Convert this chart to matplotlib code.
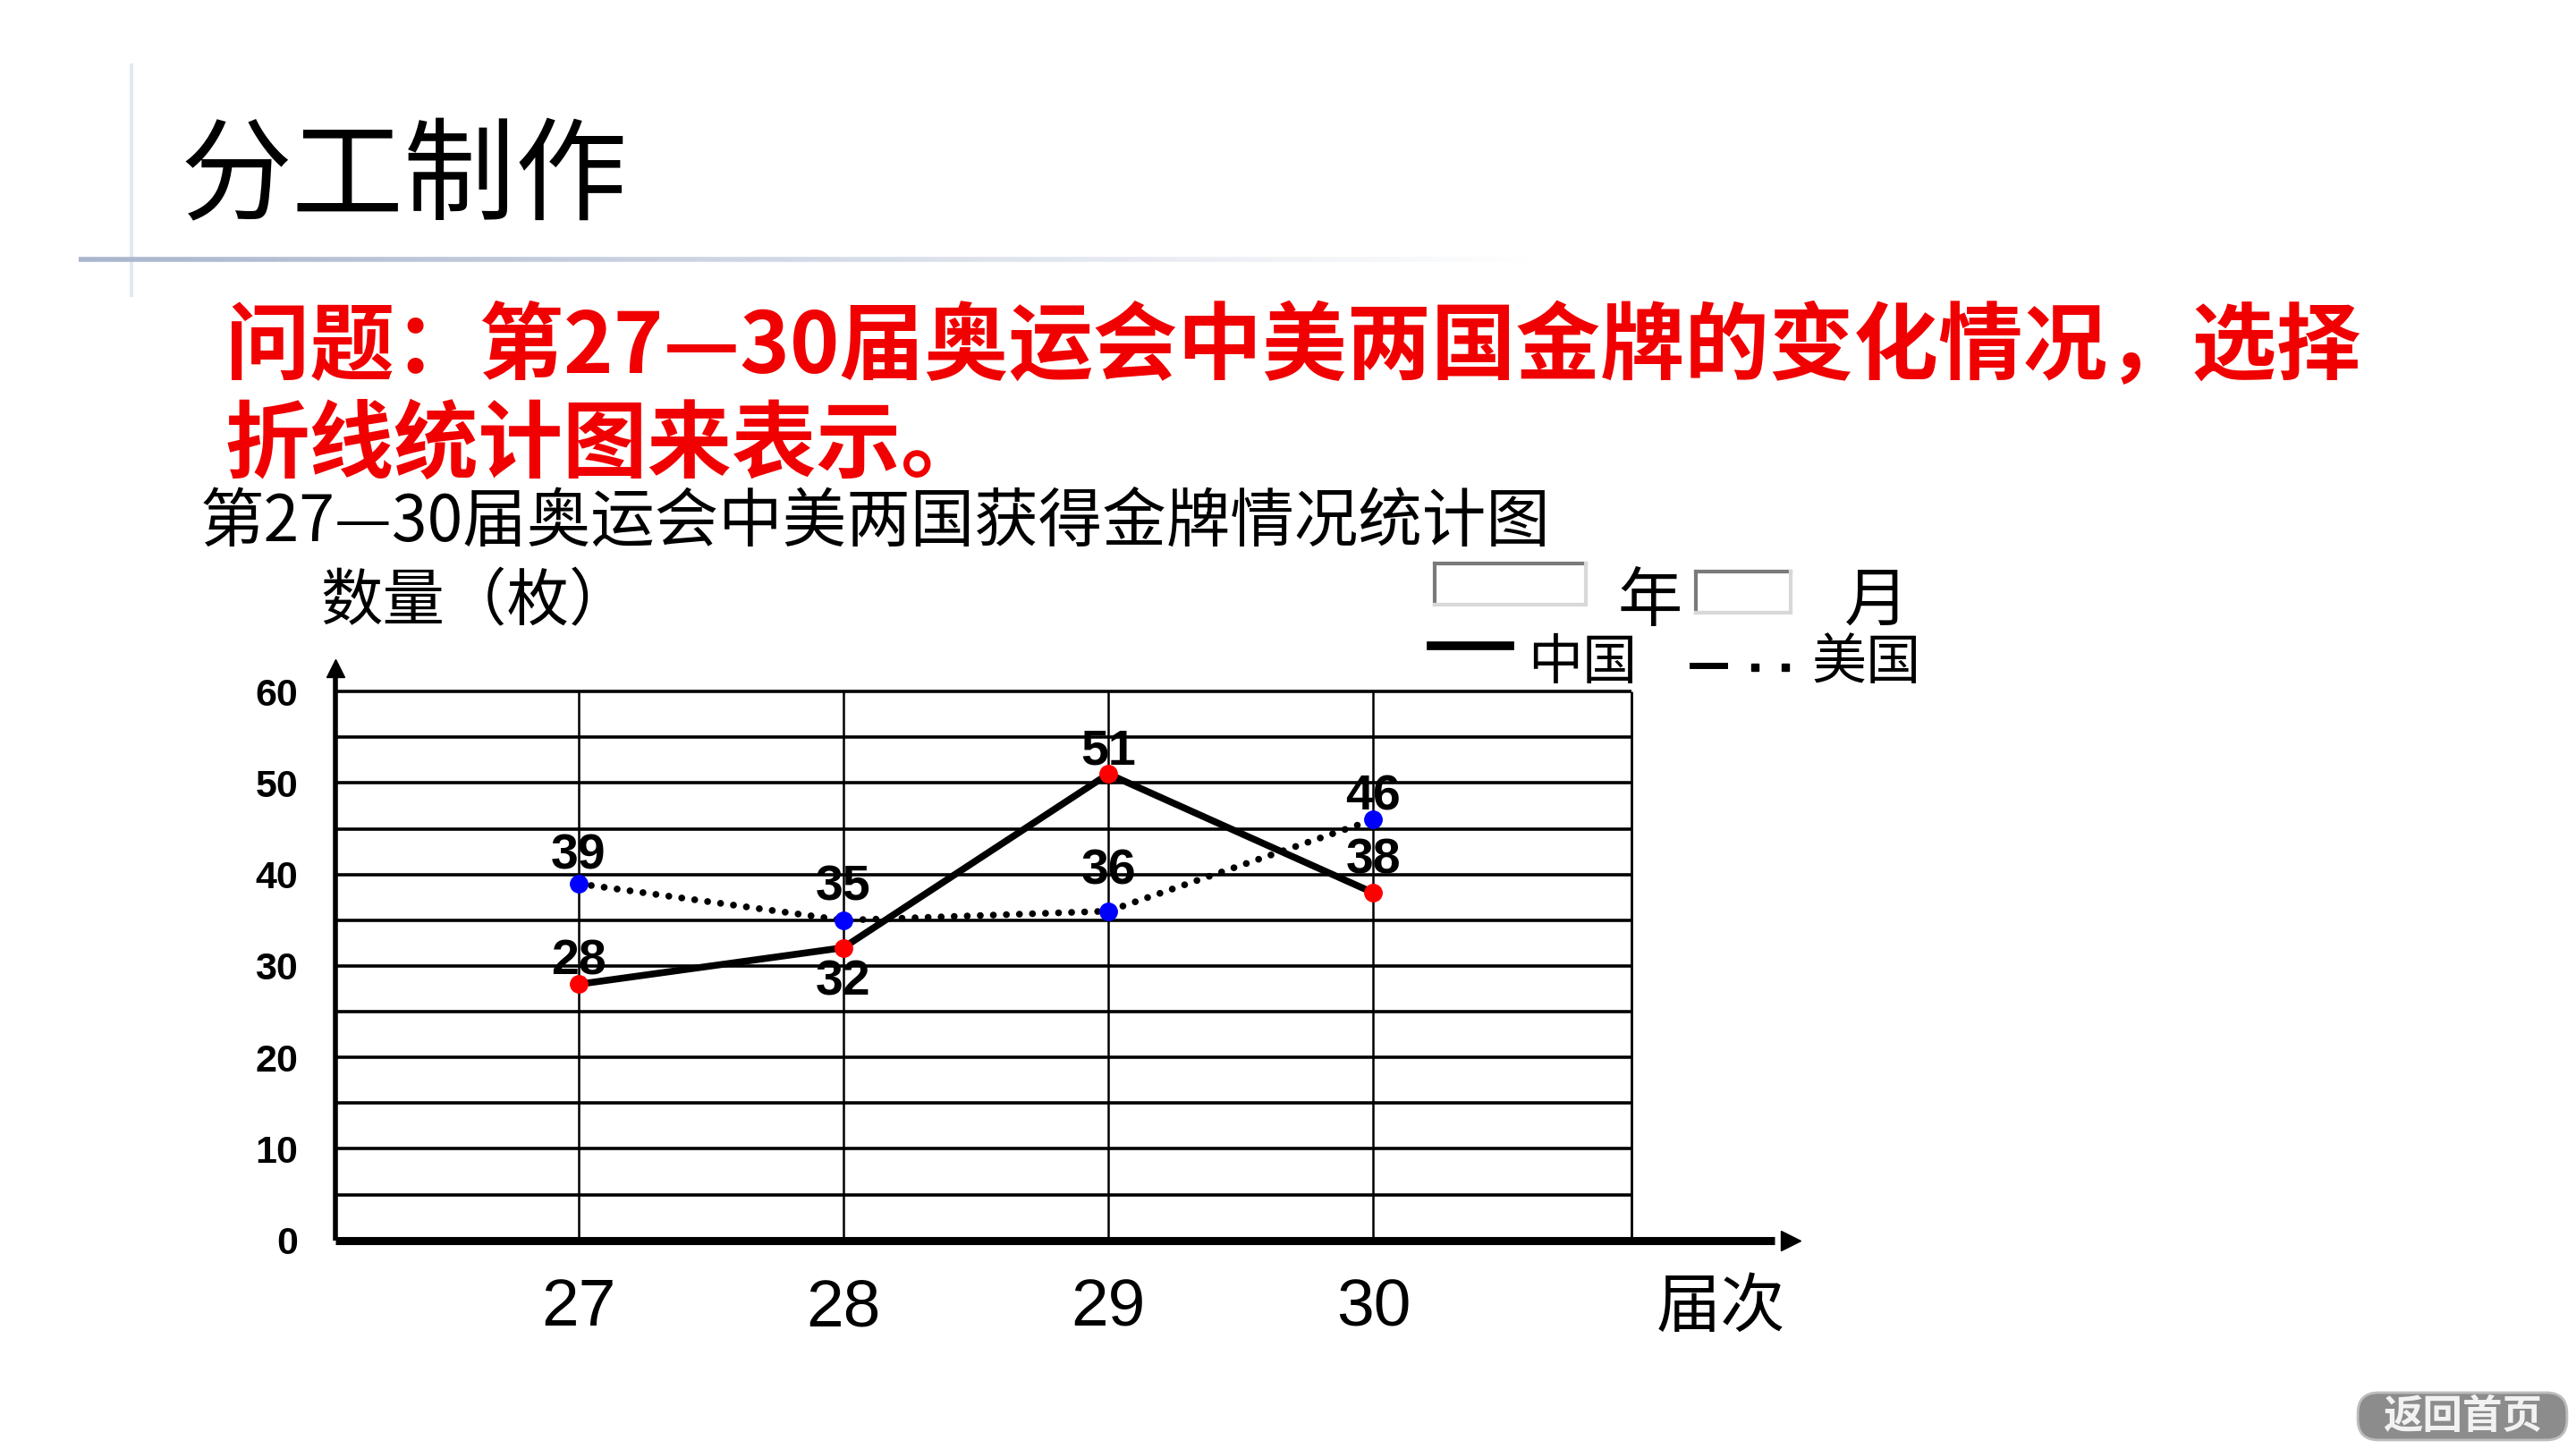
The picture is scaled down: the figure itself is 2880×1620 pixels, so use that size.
import numpy as np
import matplotlib
matplotlib.use("Agg")
import matplotlib.pyplot as plt
from matplotlib.lines import Line2D
from matplotlib.patches import FancyBboxPatch
from matplotlib.collections import LineCollection

plt.rcParams['font.family'] = ['Noto Sans CJK SC', 'DejaVu Sans']

# ---------------- data ----------------
editions = ['27', '28', '29', '30']
china = [28, 32, 51, 38]
usa = [39, 35, 36, 46]
y_tick_values = [0, 10, 20, 30, 40, 50, 60]
grid_values = [5, 10, 15, 20, 25, 30, 35, 40, 45, 50, 55, 60]

slide_title = '分工制作'
question_line1 = '问题：第27—30届奥运会中美两国金牌的变化情况，选择'
question_line2 = '折线统计图来表示。'
chart_title = '第27—30届奥运会中美两国获得金牌情况统计图'
y_label = '数量（枚）'
x_label = '届次'
legend_china = '中国'
legend_usa = '美国'

# ---------------- figure ----------------
fig = plt.figure(figsize=(28.8, 16.2), dpi=100)
fig.patch.set_facecolor('white')

# decorative header lines
fig.add_artist(Line2D([0.051, 0.051], [0.955, 0.796], color='#e3e8f1', lw=3))
xs = np.linspace(0.0306, 0.60, 120)
segs = [[(xs[i], 0.8209), (xs[i + 1], 0.8209)] for i in range(len(xs) - 1)]
cols = []
for i in range(len(xs) - 1):
    t = i / (len(xs) - 2)
    a = 1.0 - t
    c = np.array([0.66, 0.71, 0.80]) * a + np.array([1, 1, 1]) * (1 - a)
    cols.append(c)
fig.add_artist(LineCollection(segs, colors=cols, linewidths=4, transform=fig.transFigure))

fig.text(0.070, 0.876, slide_title, fontsize=90, color='black', va='center', ha='left')

fig.text(0.0874, 0.7596, question_line1, fontsize=68, color='#F00000',
         fontweight='bold', va='center', ha='left')
fig.text(0.0874, 0.6916, question_line2, fontsize=68, color='#F00000',
         fontweight='bold', va='center', ha='left')

fig.text(0.0778, 0.6395, chart_title, fontsize=51.5, color='black', va='center', ha='left')
fig.text(0.1244, 0.5840, y_label, fontsize=50, color='black', va='center', ha='left')

# date boxes
def inset_box(x0, y0, w, h):
    fig.add_artist(Line2D([x0, x0 + w], [y0 + h, y0 + h], color='#7a7a7a', lw=3))
    fig.add_artist(Line2D([x0, x0], [y0, y0 + h], color='#7a7a7a', lw=3))
    fig.add_artist(Line2D([x0, x0 + w], [y0, y0], color='#d8d8d8', lw=3))
    fig.add_artist(Line2D([x0 + w, x0 + w], [y0, y0 + h], color='#d8d8d8', lw=3))

inset_box(0.5568, 0.5828, 0.0587, 0.0283)
inset_box(0.6582, 0.5771, 0.0370, 0.0283)
fig.text(0.6405, 0.5842, '年', fontsize=52, va='center', ha='center')
fig.text(0.7283, 0.5842, '月', fontsize=52, va='center', ha='center')

# legend
fig.add_artist(Line2D([0.5555, 0.5861], [0.5544, 0.5544], color='black', lw=7))
fig.text(0.5931, 0.5421, legend_china, fontsize=44, va='center', ha='left')
fig.add_artist(Line2D([0.6570, 0.6693], [0.5408, 0.5408], color='black', lw=5))
fig.add_artist(Line2D([0.6811, 0.6932], [0.5395, 0.5395], color='black', lw=0,
                      marker='s', markersize=6))
fig.text(0.7034, 0.5421, legend_usa, fontsize=44, va='center', ha='left')

# ---------------- axes ----------------
ax = fig.add_axes([0.1301, 0.1440, 0.5651, 0.3968])
x = np.arange(len(editions))
x_left, x_right = -0.9175, 4.5753
x_border = 3.974
y_top = 62.87
ax.set_xlim(x_left, x_right)
ax.set_ylim(0, y_top)
for s in ax.spines.values():
    s.set_visible(False)

# grid
ax.hlines(grid_values, x_left, x_border, colors='black', lw=2.6, zorder=1)
ax.vlines(x, 0, 60, colors='black', lw=1.8, zorder=1)
ax.vlines([x_border], 0, 60, colors='black', lw=2.0, zorder=1)

# axes with arrows
ax.plot([x_left, x_right - 0.06], [0, 0], color='black', lw=6.5, clip_on=False,
        solid_capstyle='butt', zorder=3)
ax.plot([x_right], [0], marker='>', color='black', markersize=16, clip_on=False, zorder=3)
ax.plot([x_left, x_left], [0, y_top - 0.6], color='black', lw=4, clip_on=False,
        solid_capstyle='butt', zorder=3)
ax.plot([x_left], [y_top - 0.3], marker='^', color='black', markersize=14, clip_on=False, zorder=3)

# series
ax.plot(x, usa, color='black', lw=5.5, linestyle=(0, (0.01, 1.9)),
        dash_capstyle='round', zorder=4)
ax.plot(x, china, color='black', lw=5.5, solid_joinstyle='miter', zorder=5)
ax.plot(x, china, linestyle='none', marker='o', markersize=14,
        markerfacecolor='#FF0000', markeredgecolor='#FF0000', zorder=6)
ax.plot(x, usa, linestyle='none', marker='o', markersize=14,
        markerfacecolor='#0000FF', markeredgecolor='#0000FF', zorder=6)

# value labels
china_offsets = [18, -28, 18, 26]
usa_offsets = [22, 26, 32, 18]
for xi, v, off in zip(x, china, china_offsets):
    ax.annotate(str(v), (xi, v), xytext=(0, off), textcoords='offset points',
                ha='center', va='center', fontsize=40, fontweight='bold',
                family='Liberation Sans', zorder=7)
for xi, v, off in zip(x, usa, usa_offsets):
    ax.annotate(str(v), (xi, v), xytext=(0, off), textcoords='offset points',
                ha='center', va='center', fontsize=40, fontweight='bold',
                family='Liberation Sans', zorder=7)

# ticks
ax.set_xticks(x)
ax.set_xticklabels(editions, fontsize=54, family='Liberation Sans')
ax.set_yticks(y_tick_values)
ax.set_yticklabels([str(v) for v in y_tick_values], fontsize=31,
                   fontweight='bold', family='Liberation Sans')
ax.tick_params(axis='both', length=0)
ax.tick_params(axis='x', pad=30)
ax.tick_params(axis='y', pad=30)

fig.text(0.6429, 0.0975, x_label, fontsize=52, va='center', ha='left')

# button
btn = FancyBboxPatch((0.9153, 0.0062), 0.0812, 0.0327,
                     boxstyle='round,pad=0,rounding_size=0.008',
                     mutation_aspect=1.78, transform=fig.transFigure,
                     facecolor='#8c8c8c', edgecolor='#bdbdbd', lw=2)
fig.add_artist(btn)
fig.text(0.9559, 0.0225, '返回首页', fontsize=32, color='#f2f2f2',
         fontweight='bold', va='center', ha='center')

fig.savefig('out.png', dpi=100)
